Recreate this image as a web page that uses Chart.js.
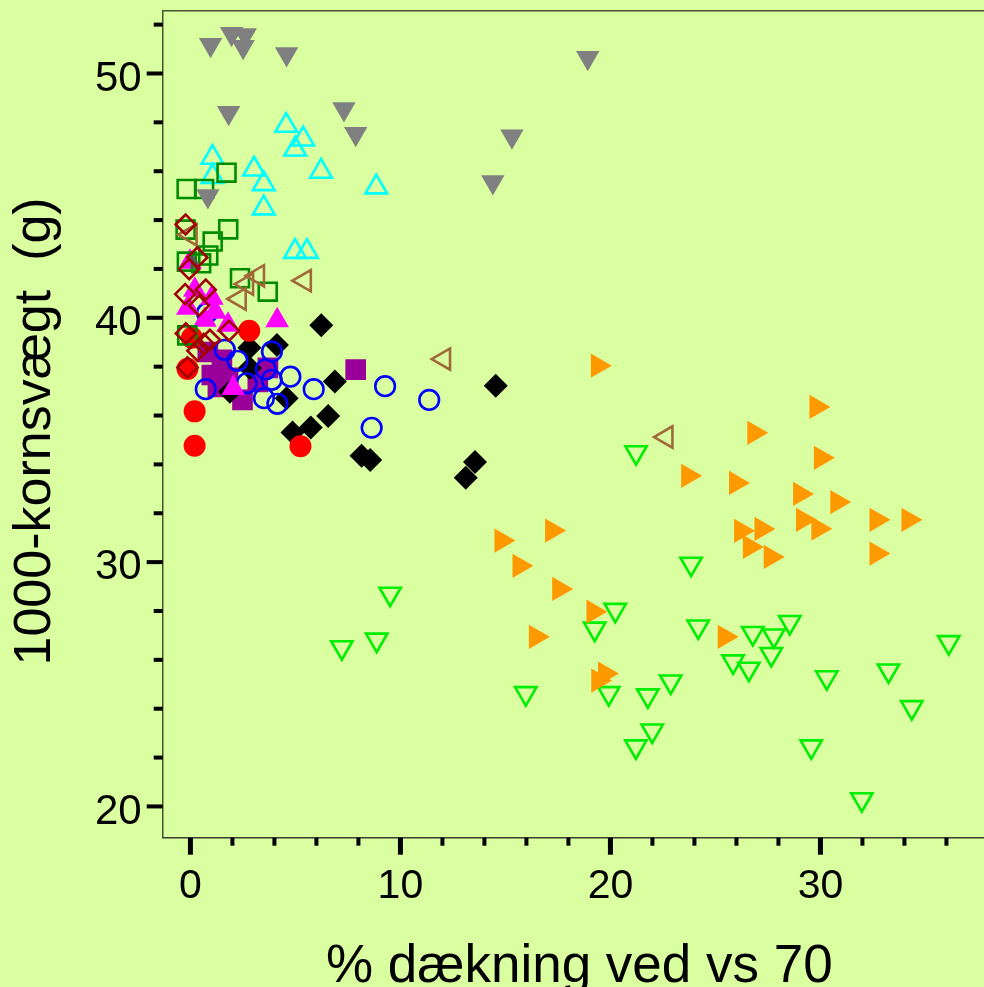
<!DOCTYPE html>
<html>
<head>
<meta charset="utf-8">
<title>1000-kornsvægt</title>
<script src="https://cdn.jsdelivr.net/npm/chart.js@4.4.1/dist/chart.umd.min.js"></script>
<style>
  html, body { margin: 0; padding: 0; background: #DAFFA0; overflow: hidden; }
  #wrap { width: 996px; height: 987px; }
</style>
</head>
<body>
<div id="wrap"><canvas id="chartCanvas"></canvas></div>
<script>
// --- Data: % coverage (x) vs 1000-kernel weight in g (y), one pair of arrays per group ---

const grayX = [0.96, 1.96, 2.61, 2.51, 4.58, 1.82, 7.31, 7.87, 0.83, 18.92, 15.31, 14.40];
const grayY = [51.18, 51.63, 51.58, 51.09, 50.80, 48.39, 48.55, 47.53, 44.99, 50.64, 47.43, 45.56];

const cyanX = [4.56, 5.37, 4.99, 1.05, 1.05, 3.03, 3.49, 6.22, 8.85, 3.49, 4.98, 5.55];
const cyanY = [47.87, 47.31, 46.90, 46.56, 45.78, 46.08, 45.48, 45.99, 45.35, 44.49, 42.71, 42.71];

const greenX = [-0.18, 0.65, 1.72, -0.23, 1.80, 1.06, 0.85, -0.17, 0.51, 2.36, 3.68, -0.15];
const greenY = [45.27, 45.27, 45.94, 43.61, 43.62, 43.12, 42.55, 42.30, 42.23, 41.62, 41.07, 39.28];

const darkRedX = [-0.23, 0.33, -0.06, 0.73, -0.25, 0.41, 1.84, -0.22, 0.33, 0.64, 0.93, -0.14];
const darkRedY = [43.82, 42.47, 41.99, 41.15, 40.97, 40.50, 39.47, 39.36, 38.65, 38.93, 39.10, 37.97];

const brownX = [3.21, 2.69, 2.34, 5.44, 12.07, 22.66, 0.00];
const brownY = [41.72, 41.38, 40.77, 41.52, 38.31, 35.12, 43.40];

const magentaX = [-0.02, 0.21, 1.02, -0.12, 0.69, 1.79, 4.13, 2.04, 1.17];
const magentaY = [42.29, 41.14, 40.81, 40.41, 39.91, 39.71, 39.89, 37.12, 40.24];

const redX = [2.80, 0.07, -0.14, 0.20, 0.20, 5.24];
const redY = [39.47, 39.18, 37.91, 36.17, 34.76, 34.74];

const blueX = [0.79, 1.64, 2.24, 2.68, 0.73, 3.59, 3.88, 3.87, 3.50, 4.14, 4.76, 5.87, 9.27, 11.37, 8.63];
const blueY = [40.20, 38.69, 38.24, 37.32, 37.08, 37.89, 38.62, 37.46, 36.71, 36.48, 37.59, 37.08, 37.20, 36.64, 35.50];

const blackX = [6.23, 2.81, 4.12, 6.88, 4.58, 6.56, 4.86, 5.73, 8.15, 8.56, 13.55, 13.11, 14.54, 2.83, 1.88];
const blackY = [39.70, 38.77, 38.89, 37.39, 36.71, 35.98, 35.31, 35.51, 34.35, 34.18, 34.10, 33.45, 37.22, 37.95, 36.97];

const purpleX = [7.87, 2.48, 0.83, 1.50, 1.02, 1.79, 1.31, 3.69, 3.21];
const purpleY = [37.88, 36.64, 38.60, 38.28, 37.66, 37.54, 37.17, 37.95, 37.38];

const orangeX = [19.40, 29.81, 26.85, 30.02, 23.70, 25.98, 29.03, 30.80, 32.67, 34.19, 29.17, 29.90, 26.22,
                 27.19, 26.64, 27.63, 32.67, 14.81, 17.22, 15.67, 17.56, 19.19, 16.45, 25.44, 19.74, 19.42];
const orangeY = [38.04, 36.35, 35.29, 34.27, 33.53, 33.24, 32.79, 32.46, 31.73, 31.73, 31.73, 31.37, 31.28,
                 31.36, 30.62, 30.21, 30.35, 30.88, 31.29, 29.85, 28.90, 27.97, 26.94, 26.94, 25.44, 25.15];

const limeX = [9.51, 8.87, 7.21, 20.23, 19.25, 24.18, 26.78, 27.78, 28.54, 27.66, 25.84, 26.59, 36.11,
               30.30, 33.24, 34.35, 15.97, 19.92, 21.78, 22.87, 21.99, 21.21, 29.56, 31.97, 21.22, 23.84];
const limeY = [28.70, 26.82, 26.51, 28.04, 27.27, 27.36, 27.09, 26.99, 27.54, 26.23, 25.93, 25.63, 26.72,
               25.28, 25.56, 24.06, 24.63, 24.63, 24.54, 25.11, 23.10, 22.45, 22.45, 20.29, 34.49, 29.93];

// Axis ticks
const xTickLabels = [0, 10, 20, 30];
const yTickLabels = [20, 30, 40, 50];
const minorStep = 2;

// --- Helpers ---

const FONT = "'Liberation Sans', Arial, Helvetica, sans-serif";

function points(xs, ys) {
    return xs.map((x, i) => ({ x, y: ys[i] }));
}

// Filled marker
function solid(xs, ys, color, style, radius, rotation) {
    return {
        data: points(xs, ys),
        pointStyle: style,
        rotation: rotation || 0,
        radius,
        backgroundColor: color,
        borderColor: color,
        borderWidth: 0
    };
}

// Outline marker
function hollow(xs, ys, color, style, radius, rotation) {
    return {
        data: points(xs, ys),
        pointStyle: style,
        rotation: rotation || 0,
        radius,
        backgroundColor: 'rgba(0,0,0,0)',
        borderColor: color,
        borderWidth: 2.6
    };
}

// First dataset ends up on top
const datasets = [
    solid(grayX, grayY, '#808080', 'triangle', 13.5, 180),
    hollow(darkRedX, darkRedY, '#A00000', 'rectRot', 10),
    hollow(brownX, brownY, '#A0693A', 'triangle', 12.3, 270),
    hollow(greenX, greenY, '#008C00', 'rect', 12.7),
    solid(redX, redY, '#FF0000', 'circle', 11),
    solid(magentaX, magentaY, '#FF00FF', 'triangle', 13.7),
    hollow(blueX, blueY, '#0000FF', 'circle', 9.8),
    solid(blackX, blackY, '#000000', 'rectRot', 12),
    solid(purpleX, purpleY, '#990099', 'rect', 14.6),
    solid(orangeX, orangeY, '#FF9900', 'triangle', 14, 90),
    hollow(limeX, limeY, '#00EE00', 'triangle', 12.3, 180),
    hollow(cyanX, cyanY, '#00FFFF', 'triangle', 12.5)
];

// Outside tick marks (long at labelled values, short in between) and the top frame line
const axisMarks = {
    id: 'axisMarks',
    afterDraw(chart) {
        const { ctx, chartArea: a, scales: { x, y } } = chart;
        ctx.save();
        ctx.fillStyle = '#000';
        for (let v = 0; v <= x.max; v += minorStep) {
            const px = x.getPixelForValue(v);
            if (xTickLabels.includes(v)) ctx.fillRect(px - 2.5, a.bottom, 5, 17);
            else ctx.fillRect(px - 2, a.bottom, 4, 8);
        }
        for (let v = 20; v <= y.max; v += minorStep) {
            const py = y.getPixelForValue(v);
            if (yTickLabels.includes(v)) ctx.fillRect(a.left - 16, py - 2, 16, 4);
            else ctx.fillRect(a.left - 9, py - 2, 9, 4);
        }
        ctx.strokeStyle = '#46532F';
        ctx.lineWidth = 1.5;
        ctx.beginPath();
        ctx.moveTo(a.left, a.top);
        ctx.lineTo(a.right, a.top);
        ctx.stroke();
        ctx.restore();
    }
};

const canvas = document.getElementById('chartCanvas');

new Chart(canvas, {
    type: 'scatter',
    data: { datasets },
    options: {
        responsive: true,
        maintainAspectRatio: false,
        animation: false,
        devicePixelRatio: 1,
        layout: { autoPadding: false, padding: { top: 10.7, left: 0, right: 0, bottom: 0 } },
        plugins: {
            legend: { display: false },
            tooltip: { enabled: false }
        },
        scales: {
            x: {
                type: 'linear',
                min: -1.32,
                max: 38.36,
                afterFit: s => { s.height = 149.3; s.paddingLeft = 0; s.paddingRight = 0; },
                afterBuildTicks: s => { s.ticks = xTickLabels.map(v => ({ value: v })); },
                grid: { drawOnChartArea: false, drawTicks: true, tickLength: 17, tickColor: 'rgba(0,0,0,0)' },
                border: { display: true, color: '#3A4030', width: 1.5 },
                ticks: {
                    color: '#000',
                    padding: 7,
                    maxRotation: 0,
                    font: { family: FONT, size: 41 }
                },
                title: {
                    display: true,
                    text: '% dækning ved vs 70',
                    color: '#000',
                    padding: { top: 0, bottom: 0 },
                    font: { family: FONT, size: 53, lineHeight: 0.74 }
                }
            },
            y: {
                type: 'linear',
                min: 18.72,
                max: 52.57,
                afterFit: s => { s.width = 162.7; s.paddingTop = 0; s.paddingBottom = 0; },
                afterBuildTicks: s => { s.ticks = yTickLabels.map(v => ({ value: v })); },
                grid: { drawOnChartArea: false, drawTicks: true, tickLength: 16, tickColor: 'rgba(0,0,0,0)' },
                border: { display: true, color: '#46532F', width: 1.5 },
                ticks: {
                    color: '#000',
                    padding: 5,
                    labelOffset: 5.5,
                    font: { family: FONT, size: 42 }
                },
                title: {
                    display: true,
                    text: '1000-kornsvægt  (g) ',
                    color: '#000',
                    padding: { top: 4, bottom: 4 },
                    font: { family: FONT, size: 52 }
                }
            }
        }
    },
    plugins: [axisMarks]
});
</script>
</body>
</html>
